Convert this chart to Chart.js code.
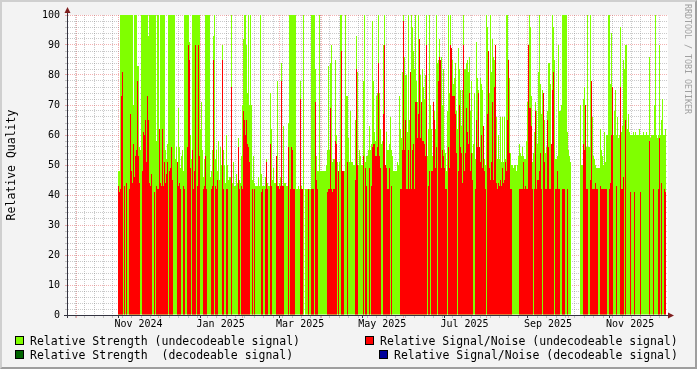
<!DOCTYPE html>
<html><head><meta charset="utf-8">
<script src="https://cdn.jsdelivr.net/npm/chart.js@4.4.1/dist/chart.umd.min.js"></script>
<style>
html,body{margin:0;padding:0;}
body{width:697px;height:369px;background:#F3F3F3;position:relative;overflow:hidden;font-family:"DejaVu Sans Mono",monospace;}
#frame{position:absolute;left:0;top:0;width:697px;height:369px;box-sizing:border-box;border-top:2px solid #CFCFCF;border-left:2px solid #CFCFCF;border-right:2px solid #9E9E9E;border-bottom:2px solid #9E9E9E;pointer-events:none;}
canvas{position:absolute;left:0;top:0;}
.lg{position:absolute;font-size:11.5px;line-height:14px;white-space:pre;color:#000;}
.bx{position:absolute;width:7px;height:7px;border:1px solid #000;}
#wm{position:absolute;left:683px;top:4px;writing-mode:vertical-rl;font-size:8.3px;line-height:10px;color:#A0A0A0;white-space:pre;}
</style></head><body>
<canvas id="c" width="697" height="369"></canvas>
<div id="frame"></div>
<div class="bx" style="left:15px;top:336px;background:#80FF00"></div>
<div class="lg" style="left:30px;top:334px">Relative Strength (undecodeable signal)</div>
<div class="bx" style="left:15px;top:350px;background:#006400"></div>
<div class="lg" style="left:30px;top:348px">Relative Strength  (decodeable signal)</div>
<div class="bx" style="left:365px;top:336px;background:#FF0000"></div>
<div class="lg" style="left:380px;top:334px">Relative Signal/Noise (undecodeable signal)</div>
<div class="bx" style="left:379px;top:350px;background:#000099"></div>
<div class="lg" style="left:394px;top:348px">Relative Signal/Noise (decodeable signal)</div>
<div id="wm">RRDTOOL / TOBI OETIKER</div>
<script>
// ---- time axis (days relative to 1 Nov 2024) ----
const firstSampleDay = 0.153;     // first consolidated sample
const sampleStepDays = 0.7424;    // one sample every ~17.8 h
const viewStartDay = -38.08;
const viewEndDay = 408.1;

// ---- tick labels ----
const monthLabels = ['Nov 2024','Jan 2025','Mar 2025','May 2025','Jul 2025','Sep 2025','Nov 2025'];
const yLabels = [0,10,20,30,40,50,60,70,80,90,100];

// ---- Relative Strength (undecodeable), per sample ----
const strengthNovJan = [48,48,
100,100,100,100,100,100,100,100,100,100,100,100,100,
70,100,100,100,83,83,56,55,
100,100,100,100,100,100,100,
93,
100,100,100,100,100,100,100,
58,100,100,60,
100,100,100,100,100,
55,52,57,
100,100,100,100,100,100,100,
52,56,50,69,56,49,53,55,48,
100,100,100,100,100,
91,60,52,
100,100,100,100,100,100,100,100,
62,71,55,46,52,
100,100,100,100,100,
46,48,55,93,100,
52,55,48,58,45,56,50,90,55,50];
const strengthJanApr = [
44,60,50,45,46,46,100,44,51,43,
43,47,44,59,45,44,53,70,92,100,
100,90,74,100,70,100,70,45,53,44,
43,43,43,46,43,100,47,43,43,43,
46,52,44,43,43,74,62,45,49,44,
44,48,78,43,44,46,84,43,63,44,
44,43,43,64,100,100,100,100,100,100,
100,42,42,43,42,78,43,42,100,null,
42,42,42,42,42,42,100,100,100,100,
82,53,48,48,100,48,48,48,48,48,
48,50,55,83,55,84,90,51,52,52];
const strengthAprJul = [
85,60,51,48,51,100,100,48,48,48,
100,73,73,59,51,68,51,51,50,50,
65,93,81,50,55,53,50,50,78,100,
51,53,53,55,63,55,57,98,78,61,
58,73,74,100,74,62,57,58,90,100,
50,61,55,55,57,66,55,53,48,48,
48,48,51,50,73,62,59,81,100,86,
80,80,61,100,65,81,100,96,88,82,
100,78,71,100,92,80,71,82,76,72,
80,100,53,62,100,70,62,53,71,68,
62,100,84,85,92,85,86,70,82,55];
const strengthJulSep = [
54,48,68,100,74,100,80,85,77,79,
84,68,62,89,82,75,63,75,100,82,
82,84,85,81,86,68,78,54,57,74,
52,91,79,75,55,79,77,75,57,52,
50,100,96,78,74,100,81,92,86,85,
90,66,52,60,52,66,51,66,51,66,
52,100,100,81,79,54,50,50,49,50,
50,48,50,53,57,54,53,56,53,52,
52,58,71,90,100,96,73,51,54,61,
71,68,57,81,100,77,67,75,73,65,
54,56,68,84,84,77,54,100,96,85];
const strengthSepDec = [
52,52,53,90,68,68,70,100,100,100,
100,100,61,55,53,51,null,null,null,null,
null,null,null,null,null,70,50,50,72,76,
68,56,100,56,56,100,78,66,53,52,
50,49,49,49,49,62,55,53,50,61,
51,60,60,100,100,77,94,60,60,68,
75,60,66,59,60,96,61,63,85,82,
90,90,62,67,61,60,60,60,61,60,
61,60,60,60,62,60,60,60,61,60,
60,61,60,60,86,59,60,60,60,70,
100,60,59,60,90,60,65,72,60,60,62];

// ---- Relative Signal/Noise (undecodeable), per sample ----
const snrNovJan = [43,41,42,73,81,
null,43,null,44,null,null,42,
67,48,44,57,46,53,55,78,53,44,
null,null,48,61,60,65,51,73,65,44,
43,47,null,null,41,null,43,42,42,62,
44,43,62,43,51,44,47,51,null,48,
49,56,45,null,null,null,null,51,43,44,
42,null,null,43,42,null,null,56,90,85,
49,null,55,42,48,90,null,43,90,53,
null,null,null,42,43,53,42,null,null,null,
null,42,43,85,null,43,42,45,null,null,
null,null,85,42,null];
const snrJanApr = [
null,42,42,null,null,null,76,null,null,null,
null,null,null,56,42,null,43,42,68,65,
60,65,57,56,51,null,null,42,null,42,
null,null,null,null,null,null,41,42,null,null,
42,51,42,null,null,57,43,null,null,null,
null,53,43,43,42,43,78,43,43,null,
null,null,null,56,null,42,56,55,42,42,
null,null,null,null,null,72,42,42,null,null,
null,null,null,42,null,null,42,42,42,null,
71,45,42,null,null,null,null,null,null,null,
null,null,41,42,42,69,42,41,42,42];
const snrAprJul = [
58,57,null,48,null,null,88,48,48,null,
null,null,51,null,null,null,null,null,null,null,
45,82,50,null,null,null,null,null,53,null,
49,43,null,null,49,null,43,56,57,57,
53,53,56,84,53,49,null,null,67,90,
50,49,42,42,49,null,43,null,null,null,
null,null,null,null,null,42,42,55,98,55,
65,42,42,55,42,81,42,55,57,42,
71,71,59,67,92,59,71,58,58,57,
53,90,null,43,48,null,48,48,71,65,
49,56,null,78,86,85,49,55,53,49];
const snrJulSep = [
42,42,null,56,49,90,89,73,73,73,
67,54,null,48,70,56,54,44,90,48,
54,69,61,57,74,48,54,45,null,null,
42,65,56,74,56,51,60,49,63,48,
42,null,67,88,49,45,51,71,45,76,
90,44,42,44,43,45,43,49,44,45,
51,48,65,85,54,42,42,null,null,null,
null,null,null,null,42,42,42,42,51,42,
43,42,42,90,69,69,63,42,null,42,
68,42,45,45,48,54,42,null,74,51,
42,42,65,56,42,42,57,75,81,null];
const snrSepDec = [
42,42,48,42,42,null,null,42,42,42,
null,null,42,null,null,null,null,null,null,null,
null,null,null,null,null,null,null,null,57,55,
70,42,42,null,null,45,78,42,42,42,
44,42,42,null,null,43,42,42,42,42,
42,42,null,null,42,44,60,76,null,null,
null,43,null,null,null,76,42,42,46,null,
65,null,null,null,null,41,null,null,null,41,
null,null,null,null,null,41,null,null,null,null,
null,null,null,null,58,null,null,null,42,null,
null,null,null,42,59,null,44,null,null,42,41];

// decodeable series: no samples in this period
const strengthDecoded = [];
const snrDecoded = [];

const strength = [].concat(strengthNovJan, strengthJanApr, strengthAprJul, strengthJulSep, strengthSepDec);
const snr = [].concat(snrNovJan, snrJanApr, snrAprJul, snrJulSep, snrSepDec);

const toPoints = arr => arr.map((v, i) => v == null ? null : {x: firstSampleDay + i * sampleStepDays, y: v}).filter(Boolean);

// ---- x ticks: month starts (major grid), Mondays (minor grid), mid-month labels ----
const DAY = 86400000, origin = Date.UTC(2024, 10, 1);
const MON = ['Jan','Feb','Mar','Apr','May','Jun','Jul','Aug','Sep','Oct','Nov','Dec'];
const labelSet = new Set(monthLabels);
const xTicks = [];
const monthVals = new Set();
for (let k = 0; k < 20; k++) {
  const d = new Date(Date.UTC(2024, 8 + k, 1));
  const v = (d - origin) / DAY;
  if (v < viewStartDay || v > viewEndDay) continue;
  const name = MON[d.getUTCMonth()] + ' ' + d.getUTCFullYear();
  const labeled = labelSet.has(name);
  monthVals.add(v);
  xTicks.push({value: v, kind: 'month', major: labeled, label: ''});
  if (labeled && v + 15 < viewEndDay) xTicks.push({value: v + 15, kind: 'label', label: name});
}
for (let v = 3 - 7 * 6; v <= viewEndDay; v += 7) {
  if (v < viewStartDay || monthVals.has(v)) continue;
  xTicks.push({value: v, kind: 'week', label: ''});
}
xTicks.sort((a, b) => a.value - b.value);

const GRID = 'rgba(128,128,128,0.42)';
const MGRID = 'rgba(225,70,70,0.42)';
const AXIS = '#333340';
const ARROW = '#7F1F1F';
const FONT = 'DejaVu Sans Mono';
const NONE = 'rgba(0,0,0,0)';

const yTickVals = [];
for (let v = 0; v <= 100; v += 2) yTickVals.push(v);

const bgPlugin = {
  id: 'bg',
  beforeDraw(chart) {
    const a = chart.chartArea, ctx = chart.ctx;
    ctx.save(); ctx.fillStyle = '#FFFFFF';
    ctx.fillRect(a.left, a.top, a.right - a.left, a.bottom - a.top);
    ctx.restore();
  }
};
const arrowPlugin = {
  id: 'arrows',
  afterDraw(chart) {
    const a = chart.chartArea, ctx = chart.ctx;
    ctx.save();
    ctx.strokeStyle = AXIS; ctx.lineWidth = 1;
    ctx.beginPath();
    ctx.moveTo(a.left + 0.5, a.top); ctx.lineTo(a.left + 0.5, a.top - 3);
    ctx.moveTo(a.left + 0.5, a.bottom); ctx.lineTo(a.left + 0.5, a.bottom + 3);
    ctx.moveTo(a.left - 3, a.bottom + 0.5); ctx.lineTo(a.left, a.bottom + 0.5);
    ctx.stroke();
    ctx.fillStyle = ARROW;
    ctx.beginPath();
    ctx.moveTo(a.left - 2.5, a.top - 2); ctx.lineTo(a.left + 3.5, a.top - 2); ctx.lineTo(a.left + 0.5, a.top - 8); ctx.closePath(); ctx.fill();
    ctx.beginPath();
    ctx.moveTo(a.right, a.bottom - 2.5); ctx.lineTo(a.right, a.bottom + 3.5); ctx.lineTo(a.right + 6, a.bottom + 0.5); ctx.closePath(); ctx.fill();
    ctx.restore();
  }
};

new Chart(document.getElementById('c'), {
  type: 'bar',
  data: {
    datasets: [
      {label: 'Relative Signal/Noise (undecodeable signal)', data: toPoints(snr), backgroundColor: '#FF0000', order: 0},
      {label: 'Relative Signal/Noise (decodeable signal)', data: toPoints(snrDecoded), backgroundColor: '#000099', order: 1},
      {label: 'Relative Strength  (decodeable signal)', data: toPoints(strengthDecoded), backgroundColor: '#006400', order: 2},
      {label: 'Relative Strength (undecodeable signal)', data: toPoints(strength), backgroundColor: '#80FF00', order: 3}
    ]
  },
  options: {
    responsive: false, animation: false, devicePixelRatio: 1, events: [],
    layout: {padding: {left: 0, top: 15, right: 29, bottom: 0}},
    datasets: {bar: {grouped: false, barThickness: 1, inflateAmount: 0, borderWidth: 0}},
    plugins: {legend: {display: false}, tooltip: {enabled: false}},
    scales: {
      x: {
        type: 'linear', min: viewStartDay, max: viewEndDay, bounds: 'data', offset: false,
        afterFit: s => { s.height = 54; },
        afterBuildTicks: s => { s.ticks = xTicks.map(t => ({value: t.value})); },
        ticks: {autoSkip: false, maxRotation: 0, minRotation: 0, padding: 0, color: '#000',
          font: {family: FONT, size: 10}, callback: (v, i) => xTicks[i] ? xTicks[i].label : ''},
        grid: {offset: false, lineWidth: 1, drawTicks: true, tickLength: 3,
          color: c => { const t = xTicks[c.index]; if (!t || c.type !== 'tick') return NONE; return t.kind === 'month' ? MGRID : t.kind === 'week' ? GRID : NONE; },
          tickColor: c => { const t = xTicks[c.index]; if (!t) return NONE; return t.major ? AXIS : t.kind === 'month' ? MGRID : t.kind === 'week' ? GRID : NONE; }},
        border: {display: true, color: AXIS, width: 1, dash: [1, 1]}
      },
      y: {
        type: 'linear', min: 0, max: 100, bounds: 'data',
        afterFit: s => { s.width = 67; },
        afterBuildTicks: s => { s.ticks = yTickVals.map(v => ({value: v})); },
        ticks: {autoSkip: false, padding: 5, color: '#000', font: {family: FONT, size: 10},
          callback: v => yLabels.includes(v) ? String(v) : ''},
        grid: {lineWidth: 1, drawTicks: true, tickLength: 2,
          color: c => (c.tick && c.tick.value % 10 === 0) ? MGRID : GRID,
          tickColor: c => (c.tick && c.tick.value % 10 === 0) ? MGRID : GRID},
        border: {display: true, color: AXIS, width: 1, dash: [1, 1]},
        title: {display: true, text: 'Relative Quality', color: '#000', font: {family: FONT, size: 11.5}, padding: {top: 5, bottom: 0}}
      }
    }
  },
  plugins: [bgPlugin, arrowPlugin]
});
</script>
</body></html>
